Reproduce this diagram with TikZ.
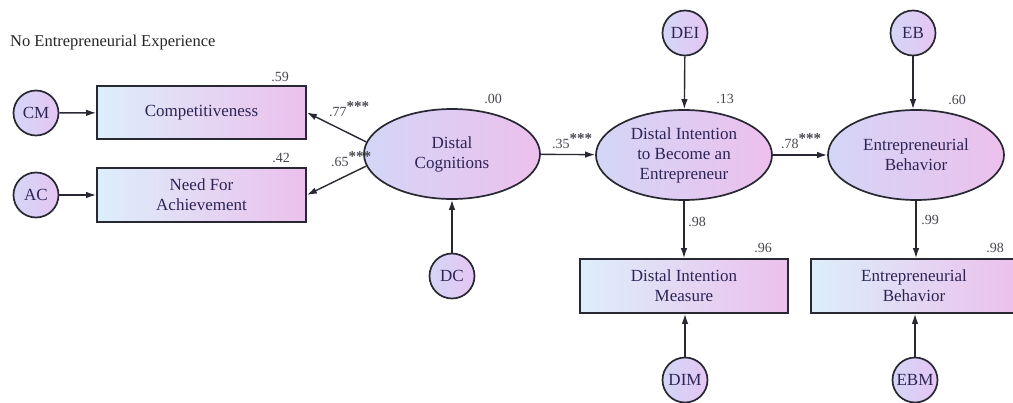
\documentclass[tikz,border=0pt]{standalone}
\usepackage{fontspec}
\newfontfamily\diagfont{Liberation Serif}
\usetikzlibrary{shapes.geometric,arrows.meta}
\definecolor{edge}{RGB}{40,40,50}
\definecolor{ink}{RGB}{45,36,85}
\definecolor{numgray}{RGB}{70,70,78}
\definecolor{lblue}{RGB}{220,238,251}
\definecolor{lpink}{RGB}{236,192,236}
\definecolor{lav}{RGB}{212,214,247}
\definecolor{cpink}{RGB}{228,198,242}
\newcommand{\stars}{\raisebox{5pt}{\fontsize{15}{15}\selectfont\bfseries***}}
\begin{document}
\begin{tikzpicture}[x=1pt,y=-1pt,
  obs/.style={draw=edge, line width=1.7pt, rectangle, left color=lblue, right color=lpink,
    text=ink, font=\diagfont\fontsize{17}{20}\selectfont, align=center, inner sep=0pt},
  lat/.style={draw=edge, line width=1.7pt, ellipse, left color=lav, right color=lpink,
    text=ink, font=\diagfont\fontsize{17}{20}\selectfont, align=center,
    minimum width=176pt, minimum height=90pt, inner sep=0pt},
  err/.style={draw=edge, line width=1.7pt, circle, minimum size=45pt, inner sep=0pt,
    left color=lav, right color=cpink, text=ink, font=\diagfont\fontsize{17}{17}\selectfont},
  arr/.style={draw=edge, line width=1.4pt, -{Latex[length=10pt,width=6.5pt]}},
  num/.style={text=numgray, font=\diagfont\fontsize{14}{14}\selectfont, inner sep=0pt},
]
\useasboundingbox (0,0) rectangle (1013,402);

% title
\node[anchor=base west, text=black!85, font=\diagfont\fontsize{16.5}{16.5}\selectfont, inner sep=0pt]
  (title) at (10,46) {No Entrepreneurial Experience};

% indicators of distal cognitions
\node[obs, minimum width=209pt, minimum height=53pt] (comp) at (201.5,112.5) {Competitiveness};
\node[obs, minimum width=209pt, minimum height=54pt] (nfa) at (201.5,195) {Need For\\Achievement};
\node[err] (cm) at (36,113) {CM};
\node[err] (ac) at (36,195) {AC};

% latent variables
\node[lat] (dcog) at (452,154) {Distal\\Cognitions};
\node[lat] (die) at (684,155) {Distal Intention\\to Become an\\Entrepreneur};
\node[lat] (ebe) at (916,155) {Entrepreneurial\\Behavior};

% disturbances
\node[err] (dc) at (452,276) {DC};
\node[err] (dei) at (685,33) {DEI};
\node[err] (eb) at (913,33) {EB};

% measures
\node[obs, minimum width=208pt, minimum height=54pt] (dim) at (684,286) {Distal Intention\\Measure};
\node[obs, minimum width=206pt, minimum height=54pt] (ebm) at (914,286) {Entrepreneurial\\Behavior};
\node[err] (dime) at (685,380) {DIM};
\node[err] (ebme) at (915,380) {EBM};

% paths
\draw[arr] (cm) -- (comp);
\draw[arr] (ac) -- (nfa);
\draw[arr] (dcog.172) -- (comp.east);
\draw[arr] (dcog.188) -- (nfa.east);
\draw[arr] (dc) -- (dcog);
\draw[arr] (dcog) -- (die);
\draw[arr] (dei) -- (die);
\draw[arr] (die) -- (ebe);
\draw[arr] (eb) -- (eb |- ebe.north);
\draw[arr] (die.south) -- (die.south |- dim.north);
\draw[arr] (dime) -- (dime |- dim.south);
\draw[arr] (ebe.south) -- (ebe.south |- ebm.north);
\draw[arr] (ebme) -- (ebme |- ebm.south);

% estimates
\node[num] (r59) at (280,77) {.59};
\node[num] (r42) at (281,158) {.42};
\node[num, anchor=base west] (c77) at (329,116) {.77\stars};
\node[num, anchor=base west] (c65) at (331,166) {.65\stars};
\node[num] (r00) at (493,99) {.00};
\node[num, anchor=base west] (c35) at (552,148) {.35\stars};
\node[num] (r13) at (725,99) {.13};
\node[num, anchor=base west] (c78) at (781,148) {.78\stars};
\node[num] (r60) at (957,100) {.60};
\node[num] (l98) at (697,222) {.98};
\node[num] (r96) at (763,248) {.96};
\node[num] (l99) at (930,220) {.99};
\node[num] (r98) at (995,248) {.98};
\end{tikzpicture}
\end{document}
